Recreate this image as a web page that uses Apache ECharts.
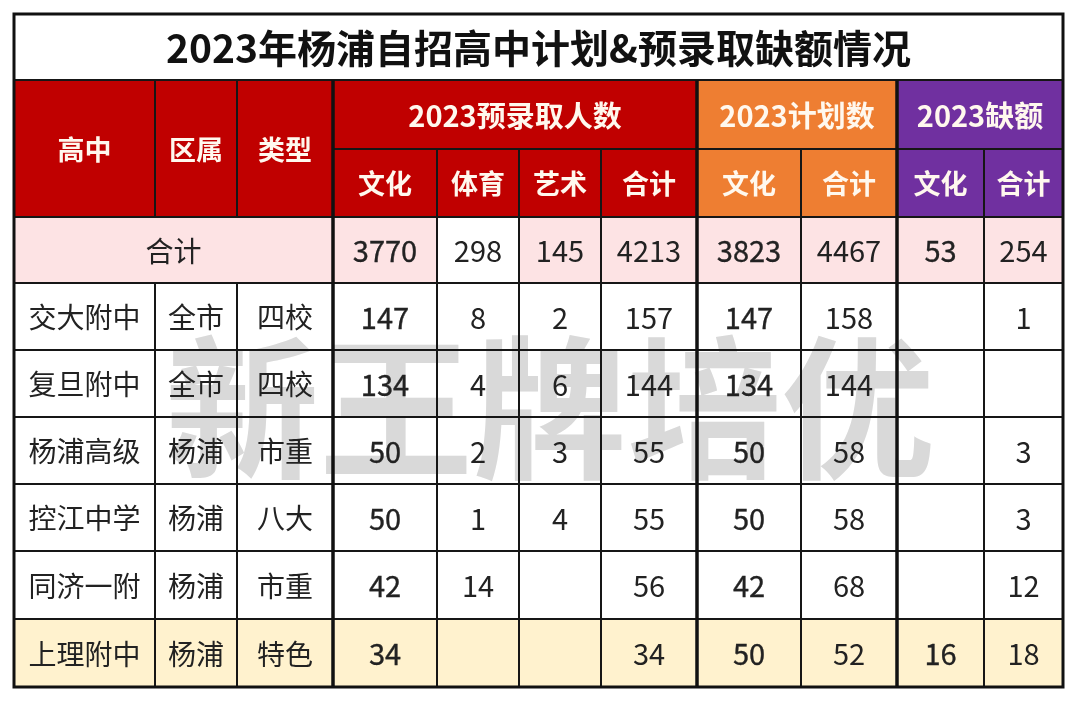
<!DOCTYPE html>
<html lang="zh">
<head>
    <meta charset="UTF-8">
    <title>2023年杨浦自招高中计划&预录取缺额情况</title>
    <script src="https://cdn.jsdelivr.net/npm/echarts@6/dist/echarts.min.js"></script>
    <style>
        html, body { margin: 0; padding: 0; background: #fff; }
        #chart { width: 1080px; height: 703px; }
    </style>
</head>
<body>
    <div id="chart"></div>
    <script>
        // 表格文字与数据
        const titleText = '2023年杨浦自招高中计划&预录取缺额情况';
        const fixedHeaders = ['高中', '区属', '类型'];
        const groupHeaders = ['2023预录取人数', '2023计划数', '2023缺额'];
        const subHeaders = ['文化', '体育', '艺术', '合计', '文化', '合计', '文化', '合计'];
        const totalLabel = '合计';
        const totals = [3770, 298, 145, 4213, 3823, 4467, 53, 254];

        const schools = ['交大附中', '复旦附中', '杨浦高级', '控江中学', '同济一附', '上理附中'];
        const districts = ['全市', '全市', '杨浦', '杨浦', '杨浦', '杨浦'];
        const types = ['四校', '四校', '市重', '八大', '市重', '特色'];

        const preCulture = [147, 134, 50, 50, 42, 34];
        const preSports = [8, 4, 2, 1, 14, null];
        const preArts = [2, 6, 3, 4, null, null];
        const preTotal = [157, 144, 55, 55, 56, 34];
        const planCulture = [147, 134, 50, 50, 42, 50];
        const planTotal = [158, 144, 58, 58, 68, 52];
        const gapCulture = [null, null, null, null, null, 16];
        const gapTotal = [1, null, 3, 3, 12, 18];

        const watermark = '新王牌培优';

        // 版式（单元格边界，像素）
        const colEdges = [14, 155, 237, 333, 437, 519, 601, 697, 801, 897, 984, 1063];
        const rowEdges = [14, 80, 149, 217, 283, 350, 417, 484, 551, 619, 687];
        const groupSpans = [[3, 7], [7, 9], [9, 11]];
        const thickCols = [3, 7, 9];

        const RED = '#C00000', ORANGE = '#EE7E32', PURPLE = '#7030A0';
        const PINK = '#FDE3E4', YELLOW = '#FFF2CE';
        const groupColors = [RED, ORANGE, PURPLE];
        const HDR_TXT = '#FFF8EE';
        const FONT = "'Noto Sans CJK SC', 'Noto Sans', sans-serif";

        const valueCols = [preCulture, preSports, preArts, preTotal, planCulture, planTotal, gapCulture, gapTotal];
        const boldValueCols = [0, 4, 6]; // 文化列字重稍粗

        const cells = [];
        function addCell(c0, c1, r0, r1, fill, text, font, color, medium) {
            cells.push({
                box: [colEdges[c0], colEdges[c1], rowEdges[r0], rowEdges[r1]],
                fill, text: text == null ? '' : String(text), font, color, medium: !!medium
            });
        }
        function groupColorOf(col) {
            for (let g = 0; g < groupSpans.length; g++) {
                if (col >= groupSpans[g][0] && col < groupSpans[g][1]) return groupColors[g];
            }
            return RED;
        }

        addCell(0, 11, 0, 1, '#fff', titleText, 'bold 39px ' + FONT, '#111');
        fixedHeaders.forEach((h, i) => addCell(i, i + 1, 1, 3, RED, h, 'bold 27px ' + FONT, HDR_TXT));
        groupHeaders.forEach((h, g) => addCell(groupSpans[g][0], groupSpans[g][1], 1, 2, groupColors[g], h, 'bold 29px ' + FONT, HDR_TXT));
        subHeaders.forEach((h, j) => addCell(3 + j, 4 + j, 2, 3, groupColorOf(3 + j), h, 'bold 27px ' + FONT, HDR_TXT));

        addCell(0, 3, 3, 4, PINK, totalLabel, 'normal 28px ' + FONT, '#222');
        totals.forEach((v, j) => {
            addCell(3 + j, 4 + j, 3, 4, j === 1 ? '#fff' : PINK, v, 'normal 29px ' + FONT, '#222', boldValueCols.includes(j));
        });

        schools.forEach((s, r) => {
            const row = 4 + r;
            const fill = r === schools.length - 1 ? YELLOW : '#fff';
            addCell(0, 1, row, row + 1, fill, s, 'normal 28px ' + FONT, '#222');
            addCell(1, 2, row, row + 1, fill, districts[r], 'normal 28px ' + FONT, '#222');
            addCell(2, 3, row, row + 1, fill, types[r], 'normal 28px ' + FONT, '#222');
            valueCols.forEach((col, j) => {
                addCell(3 + j, 4 + j, row, row + 1, fill, col[r], 'normal 29px ' + FONT, '#222', boldValueCols.includes(j));
            });
        });

        const cellData = cells.map(c => c.box);

        function boxRect(api) {
            const p0 = api.coord([api.value(0), api.value(2)]);
            const p1 = api.coord([api.value(1), api.value(3)]);
            return { x: p0[0], y: p0[1], width: p1[0] - p0[0], height: p1[1] - p0[1] };
        }

        // 粗分隔线与外框
        const thickLines = thickCols.map(c => [colEdges[c], colEdges[c], rowEdges[1], rowEdges[rowEdges.length - 1]]);
        const outerBox = [[colEdges[0], colEdges[colEdges.length - 1], rowEdges[0], rowEdges[rowEdges.length - 1]]];

        const chart = echarts.init(document.getElementById('chart'));
        chart.setOption({
            animation: false,
            grid: { left: 0, right: 0, top: 0, bottom: 0 },
            xAxis: { type: 'value', min: 0, max: 1080, show: false },
            yAxis: { type: 'value', min: 0, max: 703, inverse: true, show: false },
            series: [
                {
                    type: 'custom', z: 1, silent: true,
                    data: cellData,
                    renderItem: function (params, api) {
                        return { type: 'rect', shape: boxRect(api), style: { fill: cells[params.dataIndex].fill } };
                    }
                },
                {
                    type: 'custom', z: 2, silent: true,
                    data: [[550, 408]],
                    renderItem: function (params, api) {
                        const p = api.coord([api.value(0), api.value(1)]);
                        return {
                            type: 'text', x: p[0], y: p[1],
                            style: {
                                text: watermark, font: 'bold 154px ' + FONT, fill: '#D9D9D9',
                                align: 'center', verticalAlign: 'middle'
                            }
                        };
                    }
                },
                {
                    type: 'custom', z: 3, silent: true,
                    data: cellData,
                    renderItem: function (params, api) {
                        return { type: 'rect', shape: boxRect(api), style: { fill: null, stroke: '#161616', lineWidth: 2 } };
                    }
                },
                {
                    type: 'custom', z: 3, silent: true,
                    data: thickLines,
                    renderItem: function (params, api) {
                        const p0 = api.coord([api.value(0), api.value(2)]);
                        const p1 = api.coord([api.value(1), api.value(3)]);
                        return { type: 'line', shape: { x1: p0[0], y1: p0[1], x2: p1[0], y2: p1[1] }, style: { stroke: '#111', lineWidth: 3.5 } };
                    }
                },
                {
                    type: 'custom', z: 3, silent: true,
                    data: outerBox,
                    renderItem: function (params, api) {
                        return { type: 'rect', shape: boxRect(api), style: { fill: null, stroke: '#111', lineWidth: 3 } };
                    }
                },
                {
                    type: 'custom', z: 4, silent: true,
                    data: cellData,
                    renderItem: function (params, api) {
                        const c = cells[params.dataIndex];
                        const p0 = api.coord([api.value(0), api.value(2)]);
                        const p1 = api.coord([api.value(1), api.value(3)]);
                        const style = { text: c.text, font: c.font, fill: c.color, align: 'center', verticalAlign: 'middle' };
                        if (c.medium) { style.stroke = c.color; style.lineWidth = 0.35; }
                        return { type: 'text', x: (p0[0] + p1[0]) / 2, y: (p0[1] + p1[1]) / 2 + 1, style };
                    }
                }
            ]
        });
    </script>
</body>
</html>
